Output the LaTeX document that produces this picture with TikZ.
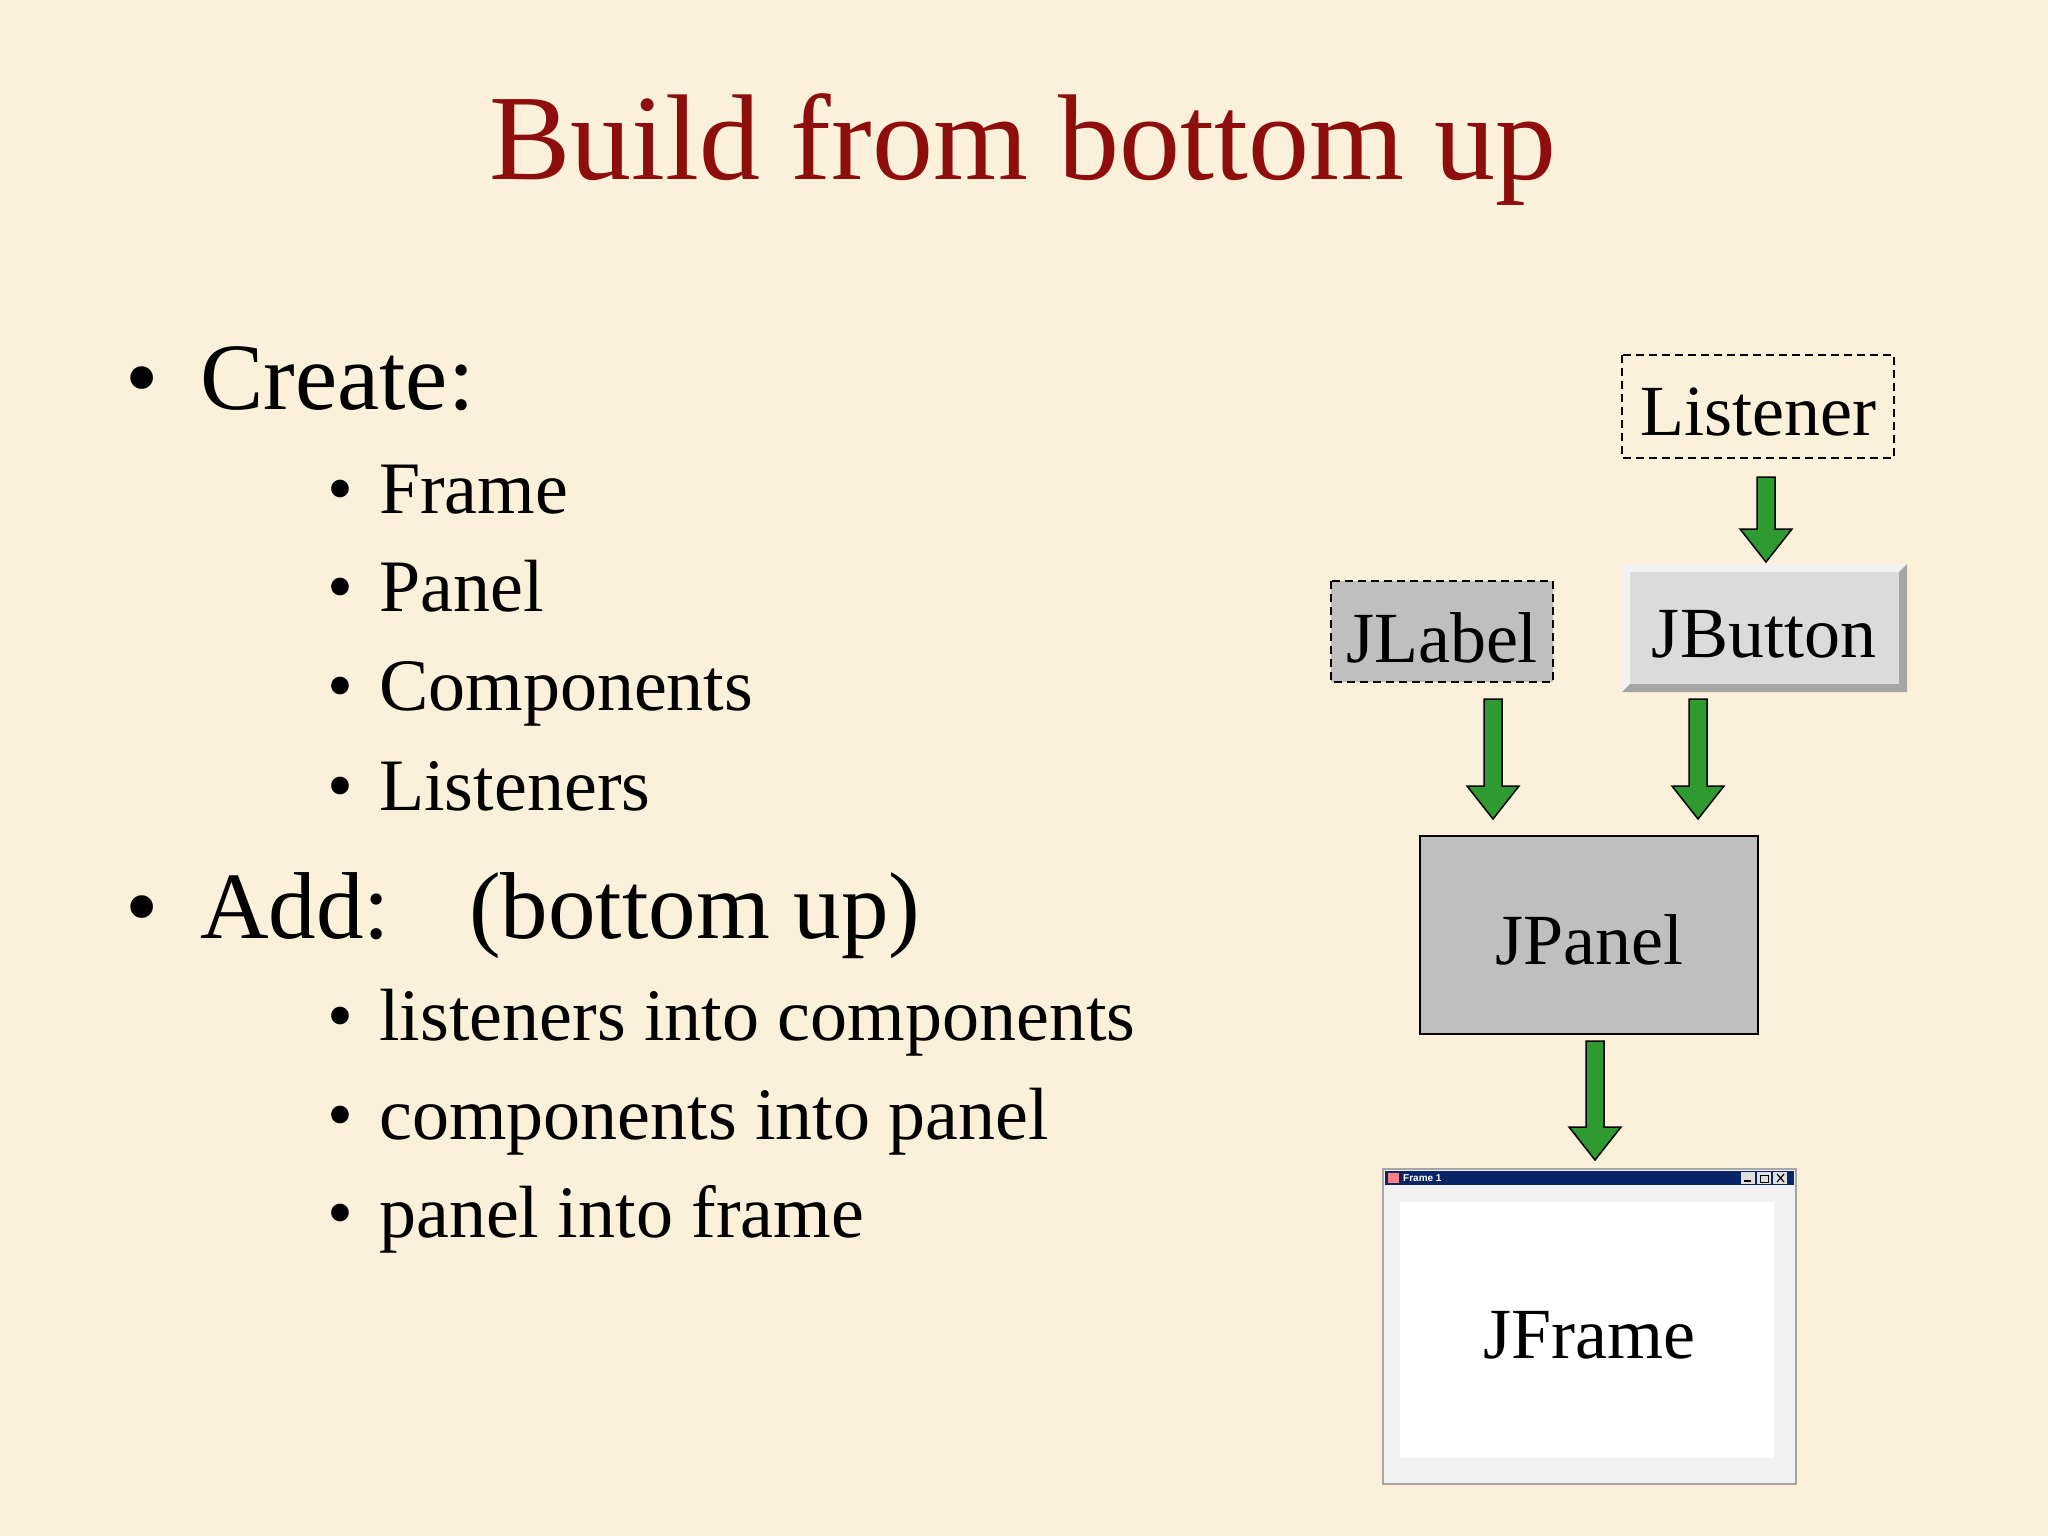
\documentclass[tikz,border=0pt]{standalone}
\usepackage{fontspec}
\setmainfont{Liberation Serif}
\newfontfamily\uisans{Liberation Sans}
\definecolor{bgc}{HTML}{FBF0D9}
\definecolor{titlec}{HTML}{8E0E0E}
\definecolor{grn}{HTML}{2E9A30}
\definecolor{navy}{HTML}{0A2468}
\begin{document}
\begin{tikzpicture}[x=1pt,y=-1pt,
  bigtxt/.style={anchor=base west,inner sep=0,font=\fontsize{95}{100}\selectfont},
  subtxt/.style={anchor=base west,inner sep=0,font=\fontsize{74}{80}\selectfont},
  boxtxt/.style={font=\fontsize{72}{80}\selectfont}]
\fill[bgc] (0,0) rectangle (2048,1536);
\useasboundingbox (0,0) rectangle (2048,1536);
\node[anchor=base,inner sep=0,text=titlec,font=\fontsize{122}{130}\selectfont] (title) at (1023,179) {Build from bottom up};
% bullets
\node[bigtxt] (b1) at (125,409) {\textbullet};
\node[bigtxt] (create) at (200,409) {Create:};
\foreach \t/\y [count=\i] in {Frame/513,Panel/611,Components/710,Listeners/810}{
  \node[subtxt] (sb\i) at (327,\y) {\textbullet};
  \node[subtxt] (s\i) at (379,\y) {\t};}
\node[bigtxt] (b2) at (125,938) {\textbullet};
\node[bigtxt] (add) at (200,938) {Add:\hspace{0.5em} (bottom up)};
\foreach \t/\y [count=\i] in {listeners into components/1040,components into panel/1139,panel into frame/1237}{
  \node[subtxt] (tb\i) at (327,\y) {\textbullet};
  \node[subtxt] (t\i) at (379,\y) {\t};}
% boxes
\draw[line width=2,dash pattern=on 8 off 5] (1622,355) rectangle (1894,458);
\node[boxtxt] (listener) at (1758,412) {Listener};
\draw[line width=2,dash pattern=on 8 off 5,fill=gray!50] (1331,581) rectangle (1553,682);
\node[boxtxt] (jlabel) at (1442,638) {JLabel};
\fill[gray!28] (1622,564) rectangle (1907,692);
\fill[white!90!gray] (1622,564) -- (1907,564) -- (1899,572) -- (1630,572) -- (1630,684) -- (1622,692) -- cycle;
\fill[gray!70] (1907,564) -- (1907,692) -- (1622,692) -- (1630,684) -- (1899,684) -- (1899,572) -- cycle;
\node[boxtxt] (jbutton) at (1764,634) {JButton};
\draw[line width=2,fill=gray!50] (1420,836) rectangle (1758,1034);
\node[boxtxt] (jpanel) at (1589,940) {JPanel};
% frame
\draw[line width=2,draw=gray!70,fill=gray!10] (1383,1169) rectangle (1796,1484);
\fill[navy] (1385,1171) rectangle (1794,1185);
\fill[white] (1400,1202) rectangle (1774,1458);
\node[anchor=west,inner sep=0,text=white,font=\uisans\bfseries\fontsize{10}{10}\selectfont] (ftitle) at (1403,1178) {Frame 1};
\fill[red!50!white] (1388,1173) rectangle (1399,1183);
\foreach \xx in {1741,1757,1773}{\fill[gray!25] (\xx,1172) rectangle (\xx+14,1184);}
\draw[line width=1.5] (1744,1181) -- (1751,1181);
\draw[line width=1] (1760,1175) rectangle (1768,1182);
\draw[line width=1.2] (1777,1174) -- (1784,1182) (1777,1182) -- (1784,1174);
\node[boxtxt] (jframe) at (1589,1335) {JFrame};
% arrows
\newcommand{\garrow}[3]{\draw[line width=1.5,fill=grn,line join=miter]
 (#1-9,#2) -- (#1+9,#2) -- (#1+9,#3-33) -- (#1+26,#3-33) -- (#1,#3) -- (#1-26,#3-33) -- (#1-9,#3-33) -- cycle;}
\garrow{1766}{477}{562}
\garrow{1493}{699}{819}
\garrow{1698}{699}{819}
\garrow{1595}{1041}{1160}
\end{tikzpicture}
\end{document}
